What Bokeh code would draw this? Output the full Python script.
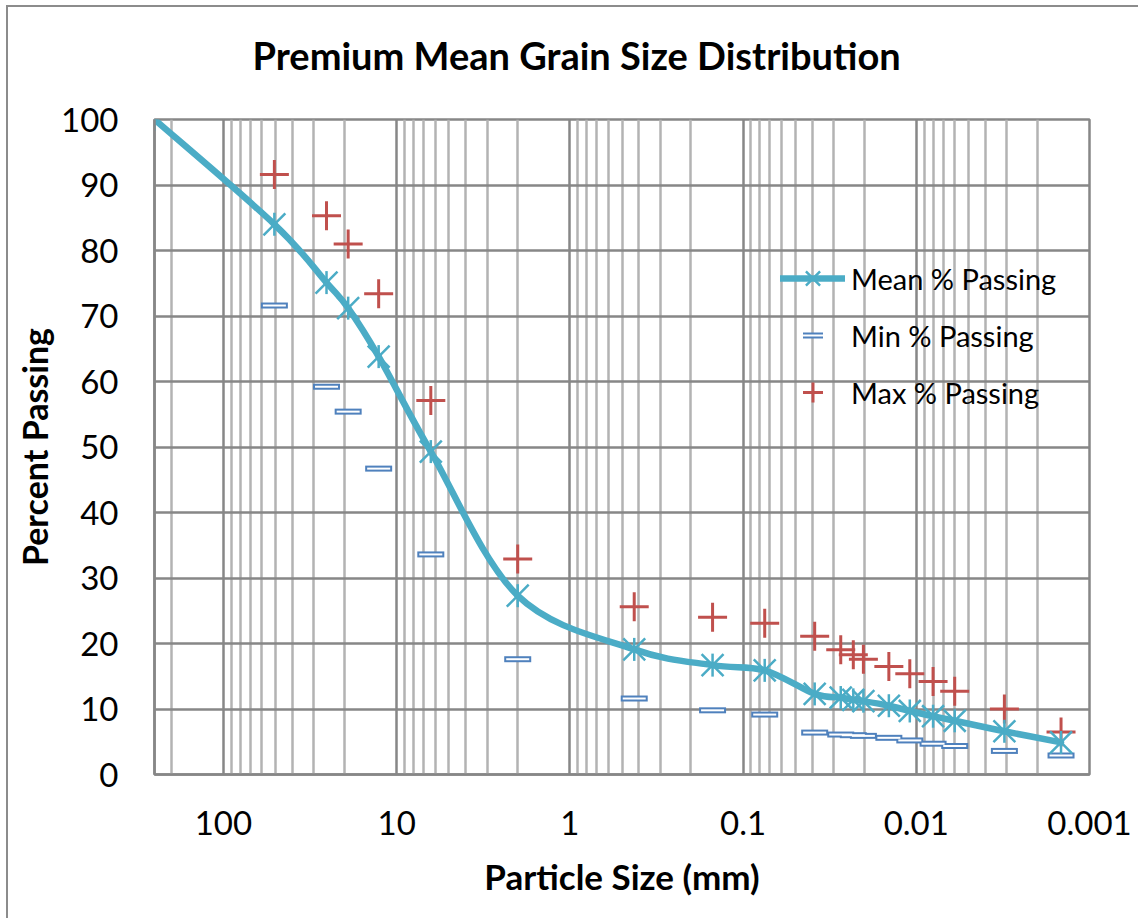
import math
from bokeh.plotting import figure
from bokeh.models import Range1d, FixedTicker, CustomJSTickFormatter, Legend, LegendItem, Title
from bokeh.embed import file_html
from bokeh.resources import INLINE

# ---------------- data ----------------
size_mm = [250, 50.8, 25.4, 19.05, 12.7, 6.35, 2.0, 0.425, 0.15, 0.075,
           0.0386, 0.0273, 0.0231, 0.0202, 0.0144, 0.0109, 0.0080, 0.0060, 0.0031, 0.00146]
mean_pass = [100, 84.0, 75.1, 71.2, 63.8, 49.3, 27.3, 19.1, 16.7, 15.9,
             12.3, 11.75, 11.4, 11.2, 10.5, 9.7, 8.9, 8.2, 6.6, 4.9]
minmax_size = size_mm[1:]
min_pass = [71.6, 59.2, 55.4, 46.7, 33.6, 17.6, 11.6, 9.8, 9.15,
            6.4, 6.1, 6.0, 5.9, 5.6, 5.2, 4.7, 4.35, 3.6, 2.9]
max_pass = [91.6, 85.3, 81.0, 73.4, 57.1, 32.9, 25.6, 24.0, 23.1,
            21.1, 19.06, 18.3, 17.6, 16.5, 15.4, 14.2, 12.7, 10.0, 6.5]
x_major_ticks = [100, 10, 1, 0.1, 0.01, 0.001]
y_ticks = [0, 10, 20, 30, 40, 50, 60, 70, 80, 90, 100]
title_text = "Premium Mean Grain Size Distribution"

CYAN = "#4BACC6"
RED = "#C0504D"
BLUE = "#4F81BD"
DARK = "#878787"
LIGHT = "#b3b3b3"
FONT = "Lato"

x_minor_ticks = [m * 10.0 ** k for k in range(-3, 3) for m in range(2, 10)]

p = figure(width=1132, height=913, x_axis_type="log",
           x_range=Range1d(250, 0.001), y_range=Range1d(0, 100),
           output_backend="svg", toolbar_location=None,
           min_border_left=146, min_border_right=51,
           min_border_top=112, min_border_bottom=146)
p.title = None
p.styles = {"margin-left": "6px", "margin-top": "5px",
            "border-left": "2px solid #8c8c8c", "border-top": "2px solid #8c8c8c"}

# spacer between frame and title, then the title itself (farther from the frame)
p.add_layout(Title(text=" ", text_font_size="10px", standoff=29), "above")
p.add_layout(Title(text=title_text, text_font=FONT, text_font_size="38px",
                   text_font_style="bold", text_color="black",
                   align="left", offset=98, standoff=0), "above")

p.outline_line_color = DARK
p.outline_line_width = 2.5

xa = p.xaxis[0]
xa.ticker = FixedTicker(ticks=x_major_ticks, minor_ticks=x_minor_ticks)
xa.formatter = CustomJSTickFormatter(code="return tick.toString()")
ya = p.yaxis[0]
ya.ticker = FixedTicker(ticks=y_ticks)

for ax in (xa, ya):
    ax.axis_line_color = DARK
    ax.axis_line_width = 2.5
    ax.major_tick_line_color = None
    ax.minor_tick_line_color = None
    ax.major_label_text_font = FONT
    ax.major_label_text_font_size = "33px"
    ax.major_label_text_color = "black"
    ax.axis_label_text_font = FONT
    ax.axis_label_text_font_style = "bold"
    ax.axis_label_text_color = "black"

xa.axis_label = "Particle Size (mm)"
ya.axis_label = "Percent Passing"
xa.axis_label_text_font_size = "35px"
ya.axis_label_text_font_size = "34px"
xa.major_label_standoff = 30
ya.major_label_standoff = 30
xa.axis_label_standoff = 17
ya.axis_label_standoff = 3

p.xgrid.grid_line_color = DARK
p.xgrid.grid_line_width = 2.5
p.xgrid.minor_grid_line_color = LIGHT
p.xgrid.minor_grid_line_width = 2.5
p.ygrid.grid_line_color = DARK
p.ygrid.grid_line_width = 2.5

# ---- smoothed mean line (Excel-style Catmull-Rom Bezier in log-x space) ----
lx = [math.log10(v) for v in size_mm]
n = len(lx)
x0, y0, x1, y1, cx0, cy0, cx1, cy1 = [], [], [], [], [], [], [], []
for i in range(n - 1):
    im1 = max(i - 1, 0)
    ip2 = min(i + 2, n - 1)
    c0x = lx[i] + (lx[i + 1] - lx[im1]) / 6.0
    c0y = mean_pass[i] + (mean_pass[i + 1] - mean_pass[im1]) / 6.0
    c1x = lx[i + 1] - (lx[ip2] - lx[i]) / 6.0
    c1y = mean_pass[i + 1] - (mean_pass[ip2] - mean_pass[i]) / 6.0
    x0.append(size_mm[i]); y0.append(mean_pass[i])
    x1.append(size_mm[i + 1]); y1.append(mean_pass[i + 1])
    cx0.append(10 ** c0x); cy0.append(c0y)
    cx1.append(10 ** c1x); cy1.append(c1y)

r_curve = p.bezier(x0=x0, y0=y0, x1=x1, y1=y1, cx0=cx0, cy0=cy0, cx1=cx1, cy1=cy1,
                   line_color=CYAN, line_width=6.5, line_cap="round")

# Min markers: hollow flat dash boxes (outer blue bar + inner light bar)
r_min_o = p.scatter(x=minmax_size, y=min_pass, marker="dash", size=27,
                    line_color=BLUE, line_width=6)
r_min_i = p.scatter(x=minmax_size, y=min_pass, marker="dash", size=23,
                    line_color="white", line_width=2)
# Max markers
r_max = p.scatter(x=minmax_size, y=max_pass, marker="cross", size=29,
                  line_color=RED, line_width=3)
# Mean markers (asterisk: x + vertical bar)
r_mx = p.scatter(x=size_mm, y=mean_pass, marker="x", size=31,
                 line_color=CYAN, line_width=2.5)
r_mv = p.scatter(x=size_mm, y=mean_pass, marker="dash", size=23, angle=math.pi / 2,
                 line_color=CYAN, line_width=2.5)

legend = Legend(items=[
    LegendItem(label="Mean % Passing", renderers=[r_curve, r_mx, r_mv]),
    LegendItem(label="Min % Passing", renderers=[r_min_o, r_min_i]),
    LegendItem(label="Max % Passing", renderers=[r_max]),
], location=(626, 357))
legend.padding = 0
legend.margin = 0
legend.spacing = 7
legend.glyph_width = 65
legend.glyph_height = 50
legend.label_height = 50
legend.label_standoff = 6
legend.label_text_font = FONT
legend.label_text_font_size = "29px"
legend.label_text_color = "black"
legend.background_fill_alpha = 0
legend.border_line_alpha = 0
p.add_layout(legend)

open("out.html", "w").write(file_html(p, INLINE))
